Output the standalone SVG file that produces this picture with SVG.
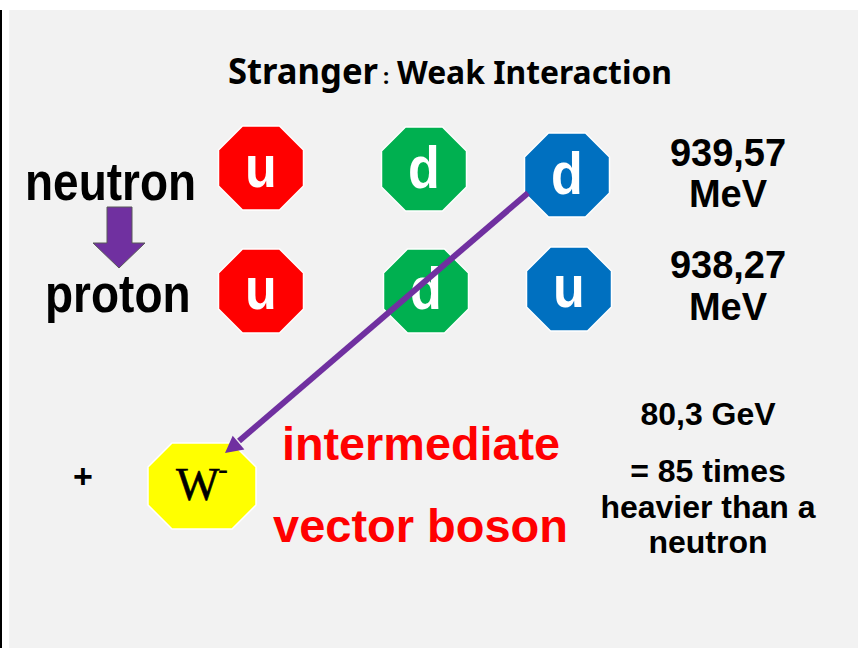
<svg xmlns="http://www.w3.org/2000/svg" width="858" height="648" viewBox="0 0 858 648">
<style>
.q{font-family:"Liberation Sans",Arial,sans-serif;font-weight:bold;font-size:52px;fill:#fff;text-anchor:middle}
.b{font-family:"Liberation Sans",Arial,sans-serif;font-weight:bold;fill:#000}
.m{font-size:38px;text-anchor:middle}
.r{font-size:32px;text-anchor:middle}
.red{font-family:"Liberation Sans",Arial,sans-serif;font-weight:bold;font-size:46px;fill:#ff0000}
.oct{stroke:#ffffff;stroke-width:1.5}
</style>
<defs>
<polygon id="oct" points="-18.5,-42 18.5,-42 42.5,-18 42.5,18 18.5,42 -18.5,42 -42.5,18 -42.5,-18"/>
</defs>
<rect x="0" y="0" width="858" height="648" fill="#ffffff"/>
<rect x="9" y="10" width="849" height="638" fill="#f2f2f2"/>
<rect x="0" y="10" width="2" height="638" fill="#000000"/>

<g id="title">
<text x="228" y="84" font-family="'Noto Sans','Open Sans',sans-serif" font-weight="bold" font-size="35" fill="#000" textLength="150" lengthAdjust="spacingAndGlyphs">Stranger</text>
<text x="383" y="84" font-family="'Noto Sans','Open Sans',sans-serif" font-weight="bold" font-size="22" fill="#000">:</text>
<text x="397" y="84" font-family="'Noto Sans','Open Sans',sans-serif" font-weight="bold" font-size="33" fill="#000" textLength="275" lengthAdjust="spacingAndGlyphs">Weak Interaction</text>
</g>

<g id="neutron-label"><text class="b" transform="translate(25 200) scale(1 1.15)" font-size="46">neutron</text></g>
<g id="proton-label"><text class="b" transform="translate(45 312) scale(1 1.15)" font-size="46">proton</text></g>
<g id="down-arrow">
<polygon points="107,207 132,207 132,243 145,243 119,268 93,243 107,243" fill="#7030a0" stroke="#595959" stroke-width="1"/>
</g>

<g id="n-u"><use href="#oct" x="261" y="168" fill="#ff0000" class="oct"/><text class="q" transform="translate(261 187) scale(1 1.15)">u</text></g>
<g id="n-d1"><use href="#oct" x="424" y="169" fill="#00b050" class="oct"/><text class="q" transform="translate(424 188) scale(1 1.15)">d</text></g>
<g id="n-d2"><use href="#oct" x="567" y="175" fill="#0070c0" class="oct"/><text class="q" transform="translate(567 194) scale(1 1.15)">d</text></g>
<g id="p-u1"><use href="#oct" x="261" y="291" fill="#ff0000" class="oct"/><text class="q" transform="translate(261 309) scale(1 1.15)">u</text></g>
<g id="p-d"><use href="#oct" x="426" y="291" fill="#00b050" class="oct"/><text class="q" transform="translate(426 309) scale(1 1.15)">d</text></g>
<g id="p-u2"><use href="#oct" x="569" y="289" fill="#0070c0" class="oct"/><text class="q" transform="translate(569 307) scale(1 1.15)">u</text></g>

<g id="mass-neutron"><text class="b m" x="728" y="166">939,57</text><text class="b m" x="728" y="207">MeV</text></g>
<g id="mass-proton"><text class="b m" x="728" y="278">938,27</text><text class="b m" x="728" y="320">MeV</text></g>

<g id="plus"><text class="b" x="83" y="488" font-size="34" text-anchor="middle">+</text></g>
<g id="w-boson">
<polygon points="172,443 232,443 256,467 256,505 232,529 172,529 148,505 148,467" fill="#ffff00" stroke="#ffffff" stroke-width="1.5"/>
<text x="176" y="500" font-family="'Liberation Serif','Times New Roman',serif" font-size="46" fill="#000" stroke="#000" stroke-width="0.6">W</text>
<text x="218" y="479" font-family="'Liberation Serif','Times New Roman',serif" font-weight="bold" font-size="30" fill="#000">-</text>
</g>

<g id="boson-label">
<text class="red" x="282" y="460" textLength="278" lengthAdjust="spacingAndGlyphs">intermediate</text>
<text class="red" x="273" y="542" textLength="295" lengthAdjust="spacingAndGlyphs">vector boson</text>
</g>

<g id="w-mass">
<text class="b r" x="708" y="425">80,3 GeV</text>
<text class="b r" x="708" y="482">= 85 times</text>
<text class="b r" x="708" y="518">heavier than a</text>
<text class="b r" x="708" y="553">neutron</text>
</g>

<g id="connectors">
<line x1="528" y1="193" x2="239" y2="441" stroke="#7030a0" stroke-width="6"/>
<polygon points="225,453 244.4,449.5 232.7,435.8" fill="#7030a0"/>
</g>
</svg>
